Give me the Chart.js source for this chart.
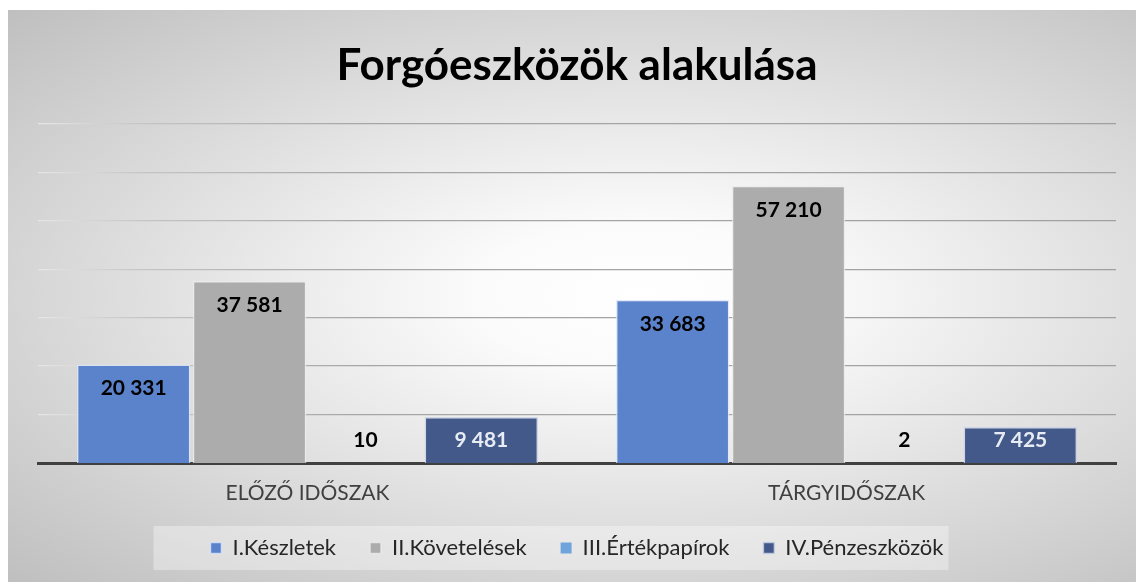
<!DOCTYPE html>
<html>
<head>
<meta charset="utf-8">
<script src="https://cdn.jsdelivr.net/npm/chart.js@4.4.1/dist/chart.umd.min.js"></script>
<style>
    html, body { margin: 0; padding: 0; background: #fff; }
    #wrap {
        position: absolute; left: 8px; top: 10px; width: 1128px; height: 572px;
        background: radial-gradient(ellipse farthest-corner at 56% 50%, #ffffff 0%, #fbfbfb 18%, #bfbfbf 100%);
    }
</style>
</head>
<body>
<div id="wrap"><canvas id="graphCanvas"></canvas></div>
<script>
var categories = ['ELŐZŐ IDŐSZAK', 'TÁRGYIDŐSZAK'];
var seriesNames = ['I.Készletek', 'II.Követelések', 'III.Értékpapírok', 'IV.Pénzeszközök'];
var keszletek = [20331, 33683];
var kovetelesek = [37581, 57210];
var ertekpapirok = [10, 2];
var penzeszkozok = [9481, 7425];
var yTicks = [0, 10000, 20000, 30000, 40000, 50000, 60000, 70000];

var FONT = 'Lato, "Open Sans", sans-serif';
var LEGEND_SIZE = 22;
var LEGEND_PAD = 34;

function fmt(v) {
    return String(v).replace(/\B(?=(\d{3})+(?!\d))/g, ' ');
}

// szamok a oszlopokon
var barLabels = {
    id: 'barLabels',
    afterDatasetsDraw: function (chart) {
        var ctx = chart.ctx;
        var base = chart.scales.y.getPixelForValue(0);
        ctx.save();
        ctx.font = 'bold 21px ' + FONT;
        ctx.textAlign = 'center';
        ctx.textBaseline = 'middle';
        chart.data.datasets.forEach(function (ds, i) {
            chart.getDatasetMeta(i).data.forEach(function (bar, j) {
                var y = Math.min(bar.y + 24, base - 23);
                ctx.fillStyle = ds.labelColor;
                ctx.fillText(fmt(ds.data[j]), bar.x, y);
            });
        });
        ctx.restore();
    }
};

// halvany hatter a jelmagyarazat mogott
var legendBack = {
    id: 'legendBack',
    beforeDraw: function (chart) {
        var lg = chart.legend;
        if (!lg || !lg.lineWidths) return;
        var ctx = chart.ctx;
        var lw = lg.lineWidths[0];
        var cx = (lg.left + lg.right) / 2;
        var cy = lg.top + LEGEND_PAD + LEGEND_SIZE / 2;
        ctx.save();
        ctx.fillStyle = 'rgba(255,255,255,0.35)';
        ctx.fillRect(cx - lw / 2 - 40, cy - 22, lw - LEGEND_PAD + 62, 44);
        ctx.restore();
    }
};

function gridColor(context) {
    var chart = context.chart;
    var area = chart.chartArea;
    if (!area) return '#b0b0b0';
    var g = chart.ctx.createLinearGradient(area.left, 0, area.right, 0);
    g.addColorStop(0, '#e6e6e6');
    g.addColorStop(0.1, '#c4c4c4');
    g.addColorStop(0.3, '#a6a6a6');
    g.addColorStop(1, '#a0a0a0');
    return g;
}

// a nulla vonalat a tengely fedi
function gridWidth(context) {
    return context.tick && context.tick.value === 0 ? 0 : 1.3;
}

// nagyon kicsi oszlopnak nincs kerete
function edge(context) {
    var v = context.dataset.data[context.dataIndex];
    return v < 100 ? 0 : 1.5;
}

var chartdata = {
    labels: categories,
    datasets: [{
        label: seriesNames[0],
        data: keszletek,
        backgroundColor: '#5b83cb',
        borderColor: 'rgba(220,230,250,0.8)',
        borderWidth: edge,
        labelColor: '#000000'
    }, {
        label: seriesNames[1],
        data: kovetelesek,
        backgroundColor: '#acacac',
        borderColor: 'rgba(235,235,235,0.8)',
        borderWidth: edge,
        labelColor: '#000000'
    }, {
        label: seriesNames[2],
        data: ertekpapirok,
        backgroundColor: '#6fa3dc',
        borderColor: 'rgba(220,235,250,0.8)',
        borderWidth: edge,
        labelColor: '#000000'
    }, {
        label: seriesNames[3],
        data: penzeszkozok,
        backgroundColor: '#42598a',
        borderColor: 'rgba(200,210,230,0.8)',
        borderWidth: edge,
        labelColor: '#e8ecf4'
    }]
};

var graphTarget = document.getElementById('graphCanvas');

var barGraph = new Chart(graphTarget, {
    type: 'bar',
    data: chartdata,
    plugins: [legendBack, barLabels],
    options: {
        responsive: true,
        maintainAspectRatio: false,
        animation: false,
        layout: { padding: { left: 30, right: 20, top: 0, bottom: 13 } },
        datasets: { bar: { categoryPercentage: 0.86, barPercentage: 0.98 } },
        plugins: {
            tooltip: { enabled: false },
            title: {
                display: true,
                text: 'Forgóeszközök alakulása',
                color: '#000000',
                font: { family: FONT, size: 44, weight: 'bold', lineHeight: 1.2 },
                padding: { top: 29, bottom: 32 }
            },
            legend: {
                position: 'bottom',
                labels: {
                    color: '#262626',
                    font: { family: FONT, size: LEGEND_SIZE },
                    boxWidth: 11,
                    boxHeight: 11,
                    padding: LEGEND_PAD
                }
            }
        },
        scales: {
            x: {
                grid: { display: false, drawTicks: false },
                border: { display: true, color: '#404040', width: 3 },
                ticks: { color: '#404040', font: { family: FONT, size: 21 }, padding: 18 },
                afterFit: function (scale) { scale.height = 40; }
            },
            y: {
                min: yTicks[0],
                max: yTicks[yTicks.length - 1],
                ticks: { display: false, stepSize: yTicks[1] - yTicks[0] },
                grid: { color: gridColor, lineWidth: gridWidth, drawTicks: false },
                border: { display: false }
            }
        }
    }
});
</script>
</body>
</html>
